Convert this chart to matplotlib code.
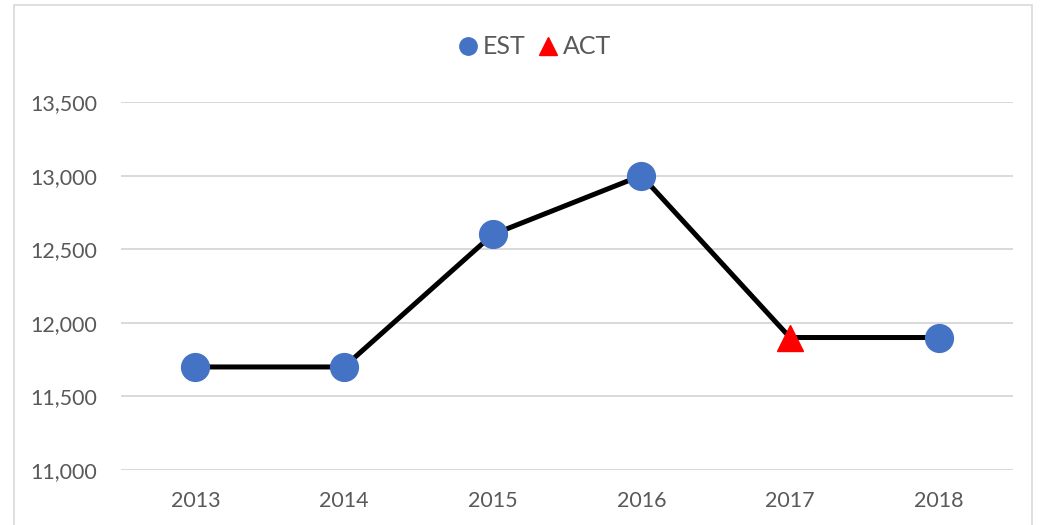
import matplotlib
matplotlib.use("Agg")
import matplotlib.pyplot as plt
from matplotlib.patches import Rectangle
from matplotlib.lines import Line2D

years = ["2013", "2014", "2015", "2016", "2017", "2018"]
values = [11700, 11700, 12600, 13000, 11900, 11900]
kinds = ["EST", "EST", "EST", "EST", "ACT", "EST"]
y_ticks = [11000, 11500, 12000, 12500, 13000, 13500]

plt.rcParams["font.family"] = ["Lato", "DejaVu Sans"]

fig = plt.figure(figsize=(10.43, 5.25), dpi=100)
ax = fig.add_axes([121 / 1043, 1 - 470 / 525, (1013 - 121) / 1043, (470 - 102) / 525])

# chart frame
fig.patches.append(Rectangle((14 / 1043, -0.05), (1032 - 14) / 1043, 1.05 - 5 / 525,
                             transform=fig.transFigure, fill=False,
                             edgecolor="#d9d9d9", linewidth=1.2))

x = list(range(len(years)))
ax.plot(x, values, color="black", linewidth=3.6, zorder=2)

est_x = [i for i, k in enumerate(kinds) if k == "EST"]
act_x = [i for i, k in enumerate(kinds) if k == "ACT"]
ax.plot(est_x, [values[i] for i in est_x], linestyle="none", marker="o",
        markersize=20, color="#4472c4", zorder=3)
ax.plot(act_x, [values[i] for i in act_x], linestyle="none", marker="^",
        markersize=19, color="#ff0000", zorder=3)

ax.set_xlim(-0.5, len(years) - 0.5)
ax.set_ylim(y_ticks[0], y_ticks[-1])
ax.set_xticks(x)
ax.set_xticklabels(years)
ax.set_yticks(y_ticks)
ax.set_yticklabels([f"{v:,}" for v in y_ticks])
ax.tick_params(axis="both", length=0, labelsize=15.5, colors="#595959")
ax.tick_params(axis="x", pad=15)
ax.tick_params(axis="y", pad=17)
ax.grid(axis="y", color="#d9d9d9", linewidth=1.4)
ax.set_axisbelow(True)
for s in ax.spines.values():
    s.set_visible(False)

handles = [
    Line2D([], [], linestyle="none", marker="o", markersize=12.5, color="#4472c4", label="EST"),
    Line2D([], [], linestyle="none", marker="^", markersize=13, color="#ff0000", label="ACT"),
]
fig.legend(handles=handles, loc="center", bbox_to_anchor=(533 / 1043, 1 - 47 / 525),
           ncol=2, frameon=False, fontsize=18, labelcolor="#595959",
           handletextpad=0.1, columnspacing=0.4, handlelength=1.0)

fig.savefig("out.png", dpi=100)
